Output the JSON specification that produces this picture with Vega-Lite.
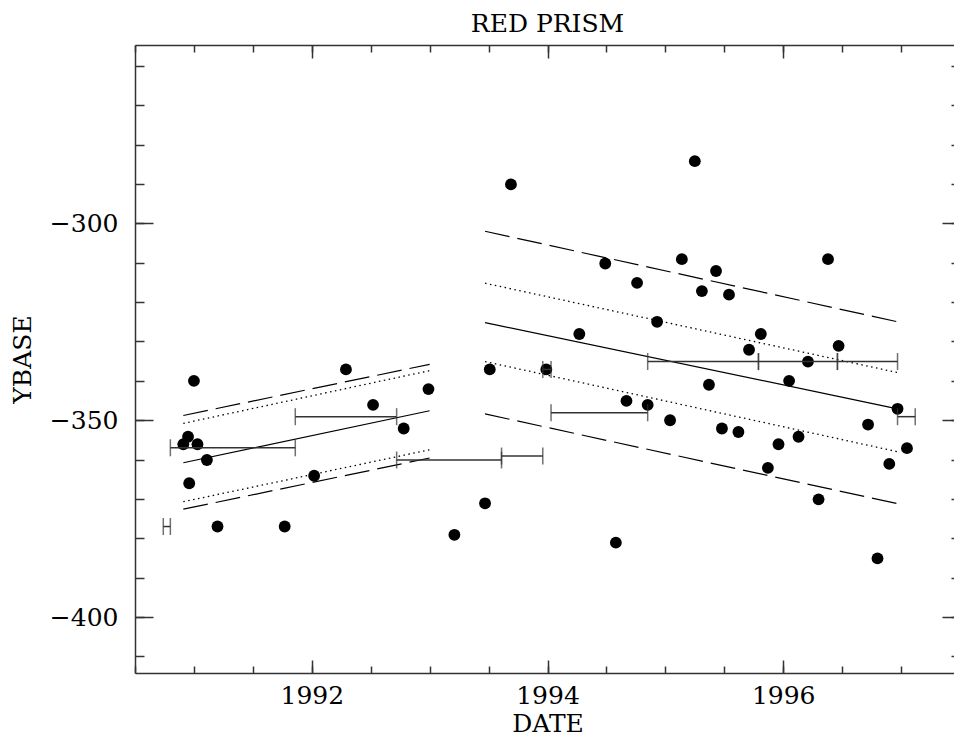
{
  "$schema": "https://vega.github.io/schema/vega-lite/v6.json",
  "autosize": {"type": "none"},
  "padding": {"left": 135, "top": 45, "right": 0, "bottom": 63},
  "width": 825,
  "height": 628,
  "background": "white",
  "title": {"text": "RED PRISM", "font": "DejaVu Serif", "fontSize": 25, "fontWeight": "normal", "color": "black", "offset": 7, "anchor": "middle"},
  "config": {
    "view": {"stroke": null},
    "axis": {"domainColor": "#333", "domainWidth": 1.5, "tickColor": "#333", "tickWidth": 1.5, "labelFont": "DejaVu Serif", "labelFontSize": 25, "labelColor": "black", "titleFont": "DejaVu Serif", "titleFontSize": 25, "titleFontWeight": "normal", "titleColor": "black", "grid": false}
  },
  "datasets": {
    "points": [
      {"date": 1991.00, "ybase": -340.0},
      {"date": 1990.95, "ybase": -354.2},
      {"date": 1990.91, "ybase": -356.1},
      {"date": 1991.03, "ybase": -356.1},
      {"date": 1991.11, "ybase": -360.1},
      {"date": 1990.96, "ybase": -366.0},
      {"date": 1991.20, "ybase": -377.0},
      {"date": 1991.77, "ybase": -377.0},
      {"date": 1992.02, "ybase": -364.1},
      {"date": 1992.29, "ybase": -337.1},
      {"date": 1992.52, "ybase": -346.1},
      {"date": 1992.78, "ybase": -352.1},
      {"date": 1992.99, "ybase": -342.1},
      {"date": 1993.21, "ybase": -379.1},
      {"date": 1993.47, "ybase": -371.1},
      {"date": 1993.51, "ybase": -337.1},
      {"date": 1993.69, "ybase": -290.1},
      {"date": 1993.99, "ybase": -337.1},
      {"date": 1994.27, "ybase": -328.1},
      {"date": 1994.49, "ybase": -310.2},
      {"date": 1994.58, "ybase": -381.1},
      {"date": 1994.67, "ybase": -345.1},
      {"date": 1994.76, "ybase": -315.1},
      {"date": 1994.85, "ybase": -346.1},
      {"date": 1994.93, "ybase": -325.0},
      {"date": 1995.04, "ybase": -350.0},
      {"date": 1995.14, "ybase": -309.1},
      {"date": 1995.25, "ybase": -284.2},
      {"date": 1995.31, "ybase": -317.2},
      {"date": 1995.37, "ybase": -341.0},
      {"date": 1995.43, "ybase": -312.1},
      {"date": 1995.48, "ybase": -352.1},
      {"date": 1995.54, "ybase": -318.1},
      {"date": 1995.62, "ybase": -353.0},
      {"date": 1995.71, "ybase": -332.1},
      {"date": 1995.81, "ybase": -328.1},
      {"date": 1995.87, "ybase": -362.1},
      {"date": 1995.96, "ybase": -356.1},
      {"date": 1996.05, "ybase": -340.0},
      {"date": 1996.13, "ybase": -354.2},
      {"date": 1996.21, "ybase": -335.1},
      {"date": 1996.30, "ybase": -370.1},
      {"date": 1996.38, "ybase": -309.1},
      {"date": 1996.47, "ybase": -331.1},
      {"date": 1996.72, "ybase": -351.1},
      {"date": 1996.80, "ybase": -385.1},
      {"date": 1996.90, "ybase": -361.1},
      {"date": 1996.97, "ybase": -347.1},
      {"date": 1997.05, "ybase": -357.1}
    ],
    "fits": [
      {"seg": "A-solid", "style": "solid", "date": 1990.91, "ybase": -360.8},
      {"seg": "A-solid", "style": "solid", "date": 1993.00, "ybase": -347.6},
      {"seg": "A-dash-up", "style": "dashed", "date": 1990.91, "ybase": -348.8},
      {"seg": "A-dash-up", "style": "dashed", "date": 1993.00, "ybase": -335.8},
      {"seg": "A-dot-up", "style": "dotted", "date": 1990.91, "ybase": -350.8},
      {"seg": "A-dot-up", "style": "dotted", "date": 1993.00, "ybase": -337.4},
      {"seg": "A-dot-lo", "style": "dotted", "date": 1990.91, "ybase": -370.7},
      {"seg": "A-dot-lo", "style": "dotted", "date": 1993.00, "ybase": -357.5},
      {"seg": "A-dash-lo", "style": "dashed", "date": 1990.91, "ybase": -372.6},
      {"seg": "A-dash-lo", "style": "dashed", "date": 1993.00, "ybase": -359.6},
      {"seg": "B-solid", "style": "solid", "date": 1993.47, "ybase": -325.2},
      {"seg": "B-solid", "style": "solid", "date": 1996.97, "ybase": -347.1},
      {"seg": "B-dash-up", "style": "dashed", "date": 1993.47, "ybase": -302.0},
      {"seg": "B-dash-up", "style": "dashed", "date": 1996.97, "ybase": -325.0},
      {"seg": "B-dot-up", "style": "dotted", "date": 1993.47, "ybase": -315.2},
      {"seg": "B-dot-up", "style": "dotted", "date": 1996.97, "ybase": -337.9},
      {"seg": "B-dot-lo", "style": "dotted", "date": 1993.47, "ybase": -335.1},
      {"seg": "B-dot-lo", "style": "dotted", "date": 1996.97, "ybase": -358.0},
      {"seg": "B-dash-lo", "style": "dashed", "date": 1993.47, "ybase": -348.4},
      {"seg": "B-dash-lo", "style": "dashed", "date": 1996.97, "ybase": -371.2}
    ],
    "bars": [
      {"start": 1990.74, "end": 1990.80, "ybase": -377.0},
      {"start": 1990.80, "end": 1991.86, "ybase": -357.0},
      {"start": 1991.86, "end": 1992.72, "ybase": -349.1},
      {"start": 1992.72, "end": 1993.61, "ybase": -360.1},
      {"start": 1993.61, "end": 1993.96, "ybase": -359.1},
      {"start": 1993.96, "end": 1994.03, "ybase": -337.1},
      {"start": 1994.03, "end": 1994.85, "ybase": -348.1},
      {"start": 1994.85, "end": 1995.79, "ybase": -335.1},
      {"start": 1995.79, "end": 1996.46, "ybase": -335.1},
      {"start": 1996.46, "end": 1996.97, "ybase": -335.1},
      {"start": 1996.97, "end": 1997.12, "ybase": -349.1}
    ]
  },
  "resolve": {"axis": {"x": "independent", "y": "independent"}},
  "layer": [
    {
      "data": {"name": "points"},
      "mark": {"type": "circle", "size": 140, "color": "black", "opacity": 1},
      "encoding": {
        "x": {"field": "date", "type": "quantitative", "scale": {"domain": [1990.5, 1997.5], "nice": false, "zero": false},
              "axis": {"orient": "bottom", "values": [1992, 1994, 1996], "format": "d", "ticks": false, "labelPadding": 10, "labelFlush": false, "labelOverlap": false, "title": "DATE", "titlePadding": 3}},
        "y": {"field": "ybase", "type": "quantitative", "scale": {"domain": [-414.2, -254.7], "nice": false, "zero": false},
              "axis": {"orient": "left", "values": [-400, -350, -300], "ticks": false, "labelPadding": 17, "labelFlush": false, "labelOverlap": false, "title": "YBASE", "titlePadding": 14}}
      }
    },
    {
      "data": {"name": "fits"},
      "transform": [{"filter": "datum.style === 'solid'"}],
      "mark": {"type": "line", "color": "black", "strokeWidth": 1.2},
      "encoding": {
        "x": {"field": "date", "type": "quantitative", "scale": {"domain": [1990.5, 1997.5], "nice": false, "zero": false},
              "axis": {"orient": "bottom", "values": [1990.5, 1991, 1991.5, 1992, 1992.5, 1993, 1993.5, 1994, 1994.5, 1995, 1995.5, 1996, 1996.5, 1997, 1997.5], "labels": false, "domain": false, "title": null, "tickSize": -7}},
        "y": {"field": "ybase", "type": "quantitative", "scale": {"domain": [-414.2, -254.7], "nice": false, "zero": false},
              "axis": {"orient": "left", "values": [-410, -400, -390, -380, -370, -360, -350, -340, -330, -320, -310, -300, -290, -280, -270, -260], "labels": false, "domain": false, "title": null, "tickSize": -9}},
        "detail": {"field": "seg", "type": "nominal"}
      }
    },
    {
      "data": {"name": "fits"},
      "transform": [{"filter": "datum.style === 'dashed'"}],
      "mark": {"type": "line", "color": "black", "strokeWidth": 1.2, "strokeDash": [25, 8]},
      "encoding": {
        "x": {"field": "date", "type": "quantitative", "scale": {"domain": [1990.5, 1997.5], "nice": false, "zero": false},
              "axis": {"orient": "bottom", "values": [1992, 1994, 1996], "labels": false, "domain": false, "title": null, "tickSize": -13}},
        "y": {"field": "ybase", "type": "quantitative", "scale": {"domain": [-414.2, -254.7], "nice": false, "zero": false},
              "axis": {"orient": "left", "values": [-400, -350, -300], "labels": false, "domain": false, "title": null, "tickSize": -18}},
        "detail": {"field": "seg", "type": "nominal"}
      }
    },
    {
      "data": {"name": "fits"},
      "transform": [{"filter": "datum.style === 'dotted'"}],
      "mark": {"type": "line", "color": "black", "strokeWidth": 1.3, "strokeDash": [1.5, 3.5]},
      "encoding": {
        "x": {"field": "date", "type": "quantitative", "scale": {"domain": [1990.5, 1997.5], "nice": false, "zero": false},
              "axis": {"orient": "top", "values": [1992, 1994, 1996], "labels": false, "domain": true, "title": null, "tickSize": -13}},
        "y": {"field": "ybase", "type": "quantitative", "scale": {"domain": [-414.2, -254.7], "nice": false, "zero": false},
              "axis": {"orient": "right", "values": [-400, -350, -300], "labels": false, "domain": true, "title": null, "tickSize": -18}},
        "detail": {"field": "seg", "type": "nominal"}
      }
    },
    {
      "data": {"name": "bars"},
      "mark": {"type": "rule", "color": "#333", "strokeWidth": 1.5},
      "encoding": {
        "x": {"field": "start", "type": "quantitative", "scale": {"domain": [1990.5, 1997.5], "nice": false, "zero": false},
              "axis": {"orient": "top", "values": [1990.5, 1991, 1991.5, 1992, 1992.5, 1993, 1993.5, 1994, 1994.5, 1995, 1995.5, 1996, 1996.5, 1997, 1997.5], "labels": false, "domain": false, "title": null, "tickSize": -7}},
        "x2": {"field": "end"},
        "y": {"field": "ybase", "type": "quantitative", "scale": {"domain": [-414.2, -254.7], "nice": false, "zero": false},
              "axis": {"orient": "right", "values": [-410, -400, -390, -380, -370, -360, -350, -340, -330, -320, -310, -300, -290, -280, -270, -260], "labels": false, "domain": false, "title": null, "tickSize": -9}}
      }
    },
    {
      "data": {"name": "bars"},
      "mark": {"type": "tick", "orient": "vertical", "color": "#333", "thickness": 1.5, "size": 17},
      "encoding": {
        "x": {"field": "start", "type": "quantitative", "scale": {"domain": [1990.5, 1997.5], "nice": false, "zero": false}, "axis": null},
        "y": {"field": "ybase", "type": "quantitative", "scale": {"domain": [-414.2, -254.7], "nice": false, "zero": false}, "axis": null}
      }
    },
    {
      "data": {"name": "bars"},
      "mark": {"type": "tick", "orient": "vertical", "color": "#333", "thickness": 1.5, "size": 17},
      "encoding": {
        "x": {"field": "end", "type": "quantitative", "scale": {"domain": [1990.5, 1997.5], "nice": false, "zero": false}, "axis": null},
        "y": {"field": "ybase", "type": "quantitative", "scale": {"domain": [-414.2, -254.7], "nice": false, "zero": false}, "axis": null}
      }
    }
  ]
}
